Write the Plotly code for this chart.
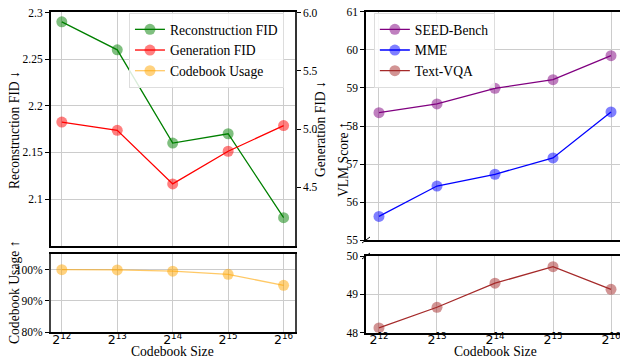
import plotly.graph_objects as go

# ---- data ----
exponents = [12, 13, 14, 15, 16]
size_labels = [f"2<sup>{e}</sup>" for e in exponents]

recon_fid = [2.29, 2.26, 2.16, 2.17, 2.08]
gen_fid = [5.06, 4.99, 4.53, 4.81, 5.03]
codebook_usage = [100.0, 99.9, 99.5, 98.5, 95.0]

seed_bench = [58.35, 58.58, 58.99, 59.22, 59.85]
mme = [55.62, 56.42, 56.73, 57.16, 58.37]
text_vqa = [48.12, 48.66, 49.29, 49.72, 49.13]

SERIF = "'Liberation Serif', 'Times New Roman', serif"
SANS = "'DejaVu Sans', sans-serif"
GRID = "#cccccc"


def trace(y, name, color, xa, ya, legend, line_color=None):
    return go.Scatter(
        x=size_labels, y=y, name=name, mode="lines+markers",
        line=dict(color=line_color or color, width=1.3),
        marker=dict(color=color, size=11, opacity=0.5, line=dict(width=0)),
        xaxis=xa, yaxis=ya, legend=legend,
    )


fig = go.Figure()
fig.add_trace(trace(recon_fid, "Reconstruction FID", "#008000", "x", "y", "legend"))
fig.add_trace(trace(gen_fid, "Generation FID", "#ff0000", "x", "y2", "legend"))
fig.add_trace(trace(codebook_usage, "Codebook Usage", "#ffa500", "x2", "y3", "legend",
                    line_color="rgba(255,165,0,0.6)"))
fig.add_trace(trace(seed_bench, "SEED-Bench", "#800080", "x3", "y4", "legend2"))
fig.add_trace(trace(mme, "MME", "#0000ff", "x3", "y4", "legend2"))
fig.add_trace(trace(text_vqa, "Text-VQA", "#a52a2a", "x4", "y5", "legend2"))

ytick_font = dict(family=SERIF, size=11.5, color="black")
xtick_font = dict(family=SANS, size=12.5, color="black")

LX = [0.0818, 0.4753]
RX = [0.5903, 1.0]


def xax(domain, anchor, rng, labels):
    return dict(domain=domain, anchor=anchor, type="category", range=rng,
                automargin=False,
                showgrid=True, gridcolor=GRID, gridwidth=1,
                showline=True, linecolor="black", linewidth=1.5, mirror=True,
                showticklabels=labels, tickfont=xtick_font, ticks="",
                ticklabelstandoff=-5, zeroline=False)


def yax(domain, anchor, rng, vals, texts, linecolor="black"):
    return dict(domain=domain, anchor=anchor, range=rng, tickvals=vals, ticktext=texts,
                automargin=False,
                showgrid=True, gridcolor=GRID, gridwidth=1,
                showline=True, linecolor=linecolor, linewidth=1.5, mirror=True,
                ticks="outside", ticklen=4, tickcolor="black", tickfont=ytick_font,
                zeroline=False)


legend_common = dict(xanchor="left", yanchor="top",
                     bgcolor="rgba(255,255,255,0.85)", bordercolor="#dddddd",
                     borderwidth=1, font=dict(family=SERIF, size=13.6, color="black"),
                     tracegroupgap=0, itemwidth=30)

fig.update_layout(
    width=620, height=358,
    template="none",
    margin=dict(l=0, r=0, t=0, b=0, autoexpand=False),
    paper_bgcolor="white", plot_bgcolor="white",
    font=dict(family=SERIF, size=13.6, color="black"),
    xaxis=xax(LX, "y", [-0.2, 4.2], False),
    yaxis=yax([0.3137, 0.9651], "x", [2.05, 2.3],
              [2.1, 2.15, 2.2, 2.25, 2.3], ["2.1", "2.15", "2.2", "2.25", "2.3"]),
    yaxis2=dict(overlaying="y", side="right", anchor="x", range=[4.0, 6.0],
                tickvals=[4.5, 5.0, 5.5, 6.0], ticktext=["4.5", "5.0", "5.5", "6.0"],
                automargin=False,
                showgrid=False, showline=True, linecolor="#333333", linewidth=2,
                ticks="outside", ticklen=4, tickcolor="black", tickfont=ytick_font,
                zeroline=False),
    xaxis2=xax(LX, "y3", [-0.2, 4.2], True),
    yaxis3=yax([0.0718, 0.2905], "x2", [80, 105], [80, 90, 100],
               ["80%", "90%", "100%"], linecolor="#444444"),
    xaxis3=xax(RX, "y4", [-0.224, 4.155], False),
    yaxis4=yax([0.3296, 0.9665], "x3", [55, 61], [55, 56, 57, 58, 59, 60, 61],
               ["55", "56", "57", "58", "59", "60", "61"]),
    xaxis4=xax(RX, "y5", [-0.224, 4.155], True),
    yaxis5=yax([0.0712, 0.2849], "x4", [48, 50], [48, 49, 50], ["48", "49", "50"]),
    legend=dict(x=0.208, y=1 - 13 / 358, **legend_common),
    legend2=dict(x=0.603, y=1 - 13 / 358, **legend_common),
)

title_font = dict(family=SERIF, size=13.6, color="black")
annots = [
    dict(text="Reconstruction FID ↓", x=14 / 620, y=1 - 130 / 358, textangle=-90),
    dict(text="Codebook Usage ↑", x=14 / 620, y=1 - 293 / 358, textangle=-90),
    dict(text="Generation FID ↓", x=320 / 620, y=1 - 129 / 358, textangle=-90),
    dict(text="VLM Score ↑", x=343 / 620, y=1 - 160 / 358, textangle=-90),
    dict(text="Codebook Size", x=172.7 / 620, y=1 - 351 / 358, textangle=0),
    dict(text="Codebook Size", x=495 / 620, y=1 - 351 / 358, textangle=0),
]
for a in annots:
    fig.add_annotation(xref="paper", yref="paper", showarrow=False,
                       xanchor="center", yanchor="middle", font=title_font,
                       borderpad=0, **a)

# broken-axis marks on the right panel
for py in (240, 256):
    fig.add_shape(type="line", xref="paper", yref="paper",
                  x0=(366 - 4) / 620, y0=1 - (py + 3) / 358,
                  x1=(366 + 4) / 620, y1=1 - (py - 3) / 358,
                  line=dict(color="black", width=1))

fig.write_html("out.html", config={"displayModeBar": False},
               post_script="document.body.style.margin='0';document.body.style.padding='0';")
